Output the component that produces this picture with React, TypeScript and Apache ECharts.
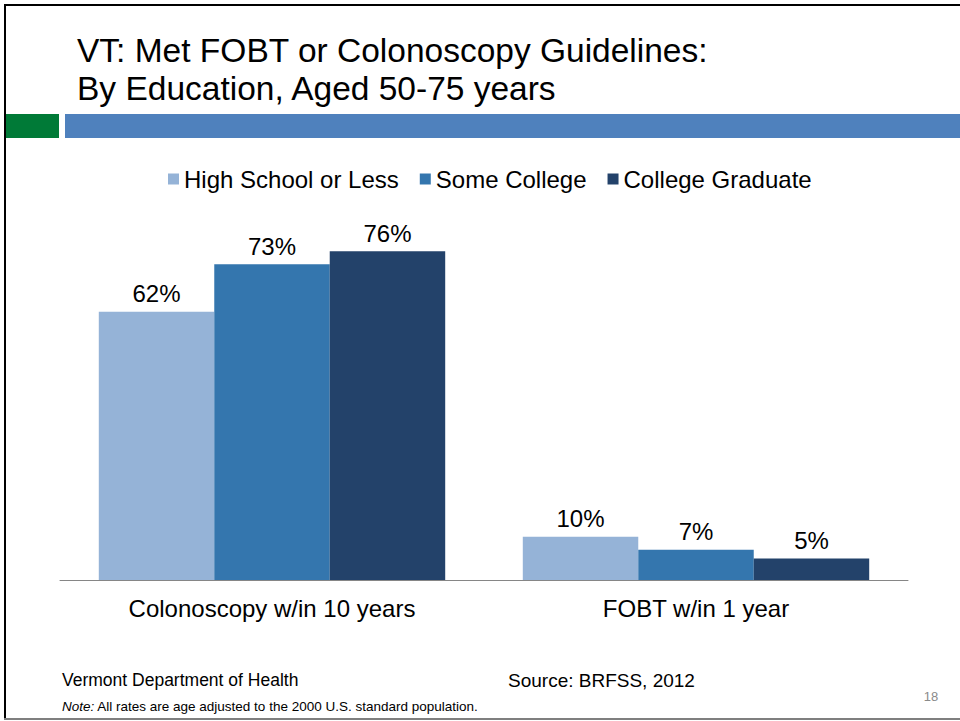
import React, { useEffect, useRef } from "react";
import * as echarts from "echarts";

const categories = ["Colonoscopy w/in 10 years", "FOBT w/in 1 year"];
const seriesNames = ["High School or Less", "Some College", "College Graduate"];
const highSchool = [62, 10];
const someCollege = [73, 7];
const collegeGrad = [76, 5];
const colors = ["#95B3D7", "#3476AE", "#23426A"];
const titleLines = ["VT: Met FOBT or Colonoscopy Guidelines:", "By Education, Aged 50-75 years"];

const FONT = "'Liberation Sans', Arial, sans-serif";

export default function App() {
  const ref = useRef<HTMLDivElement>(null);
  useEffect(() => {
    if (!ref.current) return;
    const chart = echarts.init(ref.current, undefined, { renderer: "svg" });
    const values = [highSchool, someCollege, collegeGrad];
    chart.setOption({
      animation: false,
      backgroundColor: "#ffffff",
      textStyle: { fontFamily: FONT },
      legend: {
        top: 167,
        left: 168,
        padding: 0,
        itemWidth: 11,
        itemHeight: 11,
        itemGap: 21,
        icon: "rect",
        textStyle: { fontSize: 24, color: "#000", fontFamily: FONT },
        data: seriesNames,
      },
      grid: { left: 60, right: 52, top: 234, bottom: 141, containLabel: false },
      xAxis: {
        type: "category",
        data: categories,
        axisLine: { show: true, lineStyle: { color: "#868686", width: 1 } },
        axisTick: { show: false },
        axisLabel: { fontSize: 24, color: "#000", margin: 16, fontFamily: FONT },
      },
      yAxis: {
        type: "value",
        min: 0,
        max: 80,
        show: false,
        splitLine: { show: false },
      },
      series: seriesNames.map((name, i) => ({
        name,
        type: "bar",
        data: values[i],
        barGap: "0%",
        barCategoryGap: "18.3%",
        itemStyle: { color: colors[i] },
        label: {
          show: true,
          position: "top",
          distance: 6,
          fontSize: 24,
          color: "#000",
          fontFamily: FONT,
          formatter: "{c}%",
        },
      })),
      graphic: [
        { type: "rect", shape: { x: 4, y: 4, width: 956, height: 2 }, style: { fill: "#000" } },
        { type: "rect", shape: { x: 4, y: 4, width: 2, height: 716 }, style: { fill: "#000" } },
        { type: "rect", shape: { x: 4, y: 718, width: 956, height: 2 }, style: { fill: "#7f7f7f" } },
        { type: "rect", shape: { x: 6, y: 114, width: 53, height: 24 }, style: { fill: "#007A37" } },
        { type: "rect", shape: { x: 65, y: 114, width: 895, height: 24 }, style: { fill: "#4F81BD" } },
        {
          type: "text",
          x: 77,
          y: 50,
          style: { text: titleLines[0], fontSize: 33.5, fontFamily: FONT, fill: "#000", verticalAlign: "middle" },
        },
        {
          type: "text",
          x: 77,
          y: 88,
          style: { text: titleLines[1], fontSize: 33.5, fontFamily: FONT, fill: "#000", verticalAlign: "middle" },
        },
        {
          type: "text",
          x: 62,
          y: 680,
          style: { text: "Vermont Department of Health", fontSize: 17.5, fontFamily: FONT, fill: "#000", verticalAlign: "middle" },
        },
        {
          type: "text",
          x: 508,
          y: 680,
          style: { text: "Source: BRFSS, 2012", fontSize: 19, fontFamily: FONT, fill: "#000", verticalAlign: "middle" },
        },
        {
          type: "text",
          x: 62,
          y: 706,
          style: {
            text: "{i|Note:} All rates are age adjusted to the 2000 U.S. standard population.",
            fontSize: 13.5,
            fontFamily: FONT,
            fill: "#000",
            verticalAlign: "middle",
            rich: { i: { fontStyle: "italic", fontSize: 13.5, fontFamily: FONT, fill: "#000" } },
          },
        },
        {
          type: "text",
          x: 931,
          y: 696,
          style: { text: "18", fontSize: 13, fontFamily: FONT, fill: "#8a8a8a", align: "center", verticalAlign: "middle" },
        },
      ],
    });
    return () => chart.dispose();
  }, []);
  return <div ref={ref} style={{ width: 960, height: 721, position: "absolute", left: 0, top: 0 }} />;
}
